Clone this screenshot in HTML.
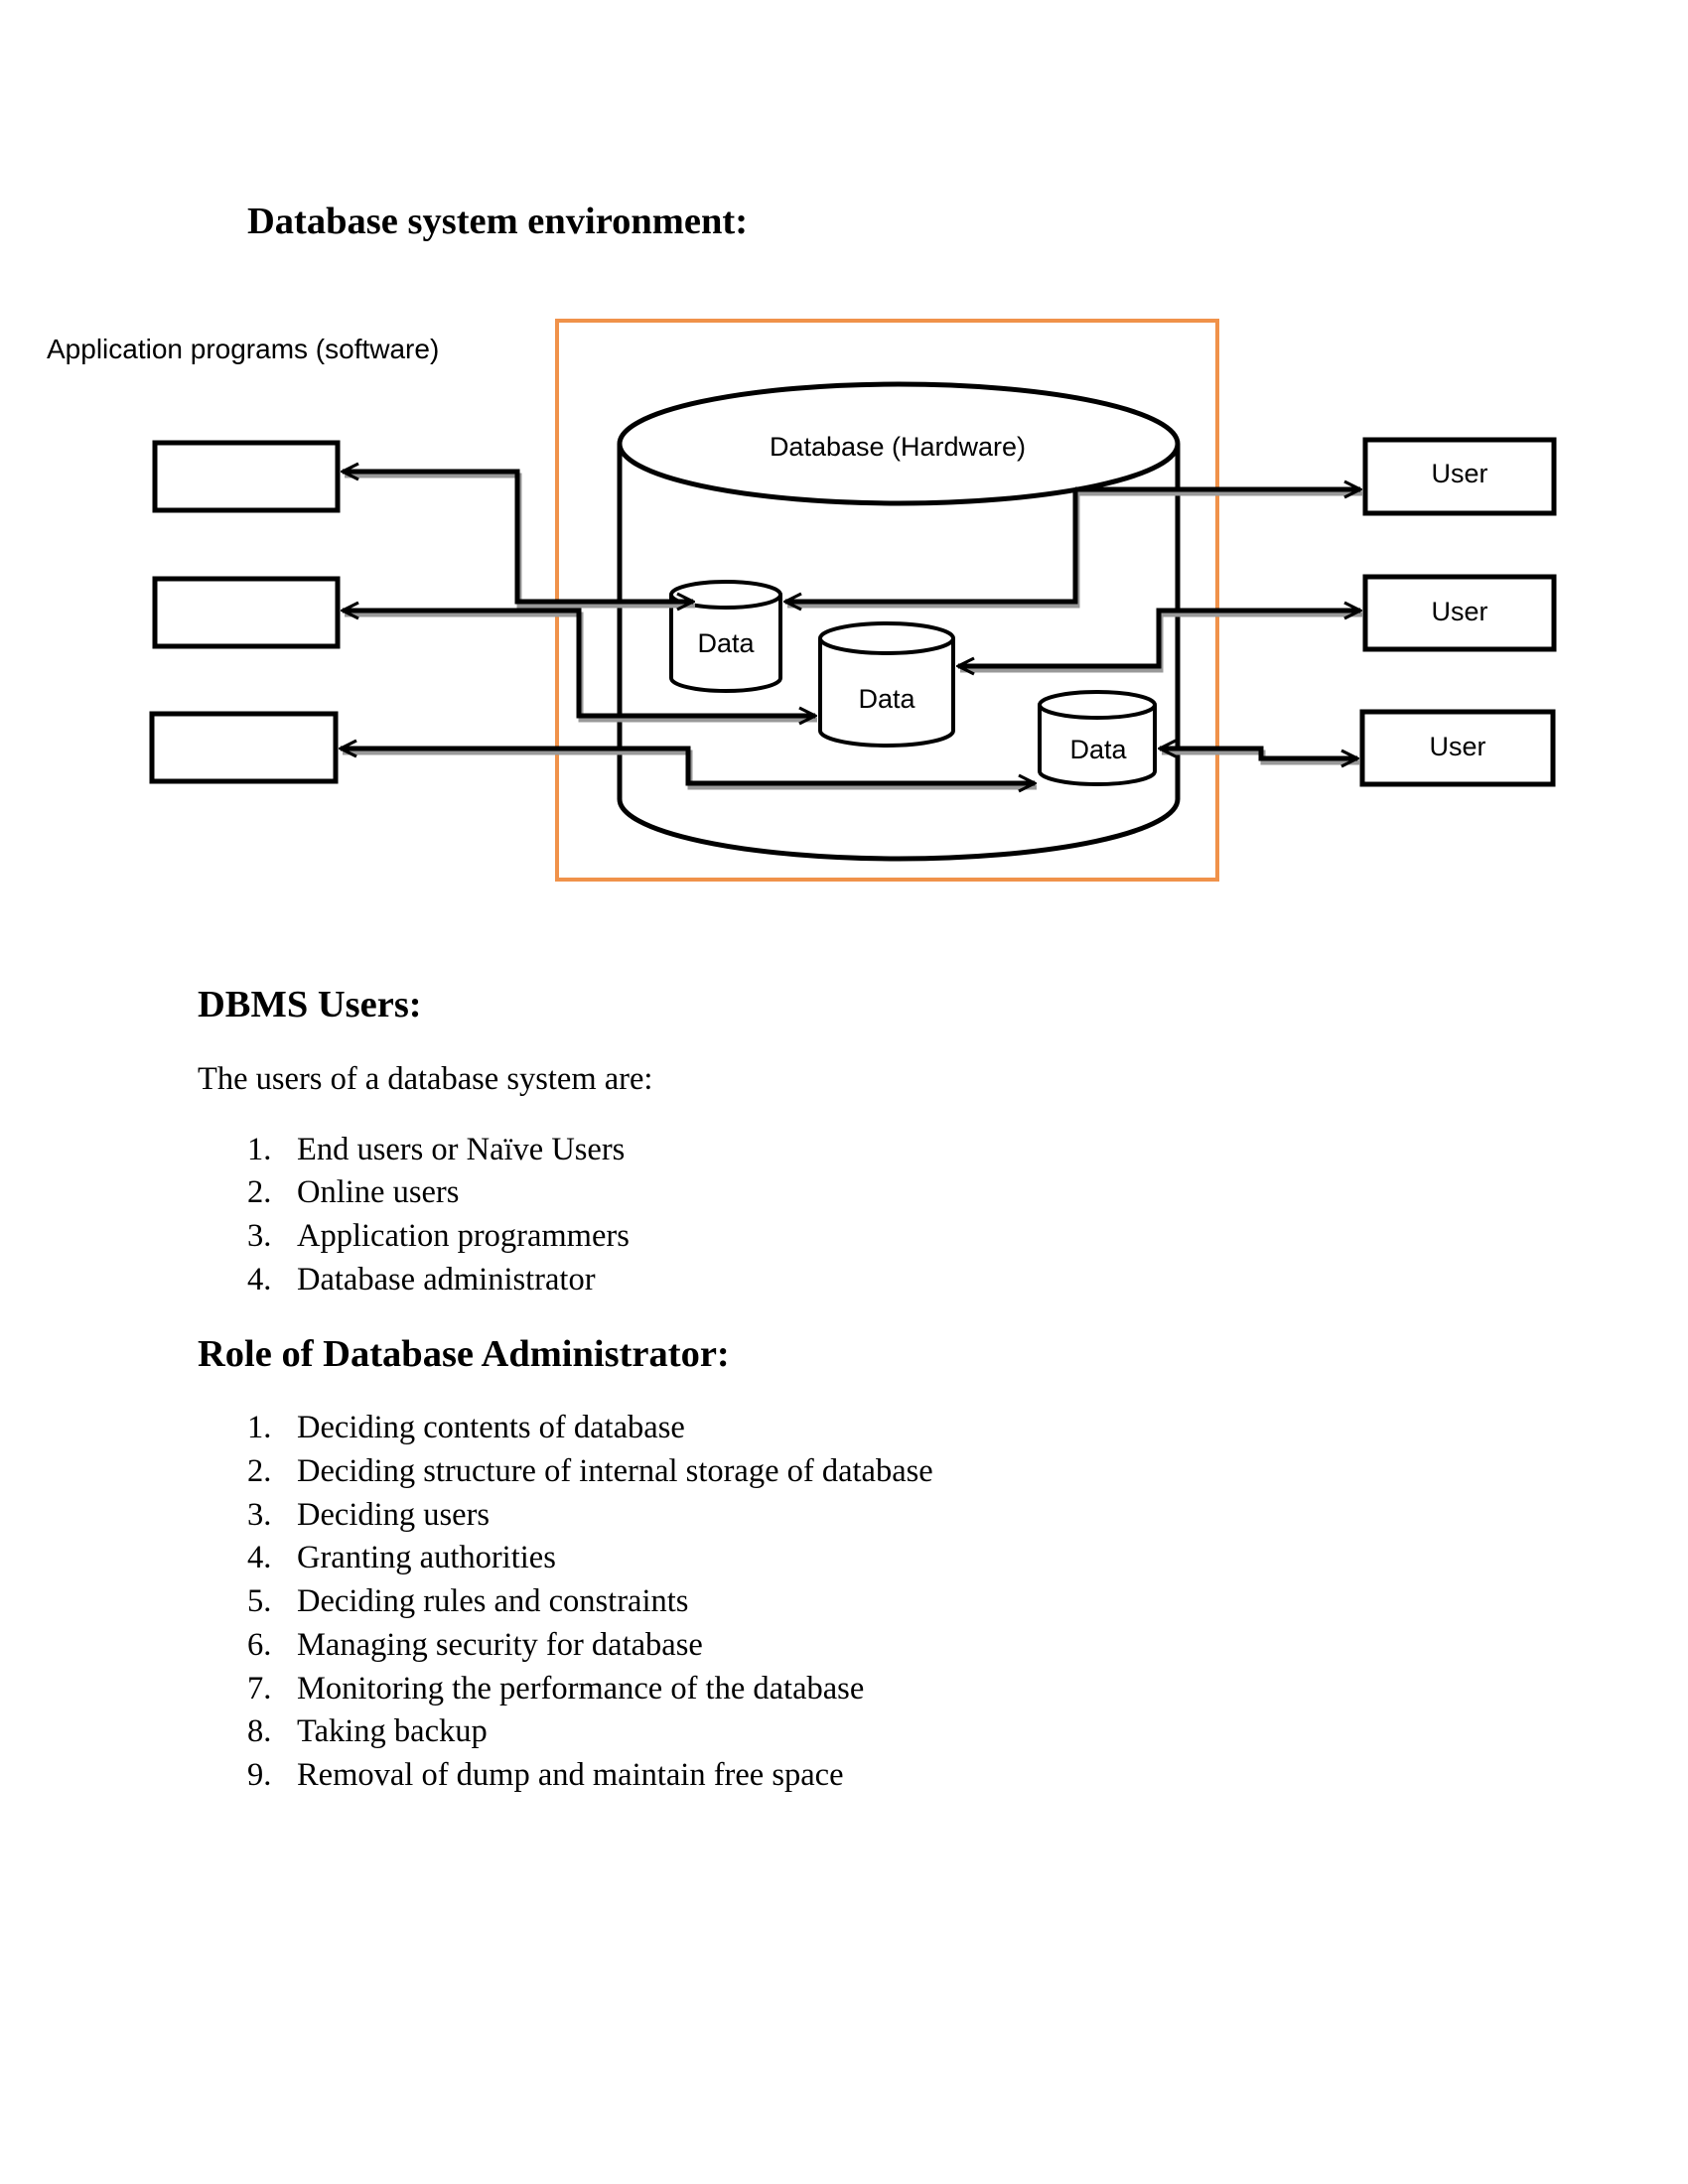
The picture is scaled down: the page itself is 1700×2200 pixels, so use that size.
<!DOCTYPE html>
<html><head><meta charset="utf-8"><style>
html,body{margin:0;padding:0;background:#fff;}
svg{display:block;}
.t{font-family:"Liberation Serif",serif;font-size:32.5px;fill:#000;}
.h{font-family:"Liberation Serif",serif;font-size:38.5px;font-weight:bold;fill:#000;}
.s{font-family:"Liberation Sans",sans-serif;fill:#000;}
</style></head><body>
<svg width="1700" height="2200" viewBox="0 0 1700 2200" xmlns="http://www.w3.org/2000/svg">
<defs>
<marker id="a" viewBox="0 0 10 10" refX="9" refY="5" markerWidth="4" markerHeight="4" orient="auto-start-reverse" markerUnits="strokeWidth">
<path d="M1,1 L9,5 L1,9" fill="none" stroke="#000" stroke-width="1.6"/>
</marker>
</defs>
<text class="h" x="249" y="235">Database system environment:</text>
<text class="s" x="47" y="361" font-size="28">Application programs (software)</text>
<rect x="561" y="323" width="665" height="563" fill="none" stroke="#f0924a" stroke-width="4"/>
<path d="M624,447 L624,805 A281,60 0 0 0 1186,805 L1186,447" fill="none" stroke="#000" stroke-width="5"/>
<ellipse cx="905" cy="447" rx="281" ry="60" fill="#fff" stroke="#000" stroke-width="5"/>
<text class="s" x="904" y="459" font-size="27" text-anchor="middle">Database (Hardware)</text>
<rect x="156" y="446" width="184" height="68" fill="#fff" stroke="#000" stroke-width="5"/>
<rect x="156" y="583" width="184" height="68" fill="#fff" stroke="#000" stroke-width="5"/>
<rect x="153" y="719" width="185" height="68" fill="#fff" stroke="#000" stroke-width="5"/>
<rect x="1375" y="443" width="190" height="74" fill="#fff" stroke="#000" stroke-width="5"/>
<rect x="1375" y="581" width="190" height="73" fill="#fff" stroke="#000" stroke-width="5"/>
<rect x="1372" y="717" width="192" height="73" fill="#fff" stroke="#000" stroke-width="5"/>
<text class="s" x="1470" y="486" font-size="27" text-anchor="middle">User</text>
<text class="s" x="1470" y="625" font-size="27" text-anchor="middle">User</text>
<text class="s" x="1468" y="761" font-size="27" text-anchor="middle">User</text>
<g stroke="#000" stroke-width="4" fill="#fff">
<path d="M676,599 L676,683 A55,13 0 0 0 786,683 L786,599"/>
<ellipse cx="731" cy="599" rx="55" ry="13"/>
<path d="M826,643 L826,736 A67,15 0 0 0 960,736 L960,643"/>
<ellipse cx="893" cy="643" rx="67" ry="15"/>
<path d="M1047,710 L1047,777 A58,13 0 0 0 1163,777 L1163,710"/>
<ellipse cx="1105" cy="710" rx="58" ry="13"/>
</g>
<text class="s" x="731" y="657" font-size="27" text-anchor="middle">Data</text>
<text class="s" x="893" y="713" font-size="27" text-anchor="middle">Data</text>
<text class="s" x="1106" y="764" font-size="27" text-anchor="middle">Data</text>
<g fill="none" stroke="#999" stroke-width="5" transform="translate(2,4)">
<path d="M698,606 L521,606 L521,475 L345,475"/>
<path d="M1083,493 L1370,493 M1083,493 L1083,606 L791,606"/>
<path d="M345,615 L583,615 L583,721 L821,721"/>
<path d="M1370,615 L1167,615 L1167,671 L965,671"/>
<path d="M343,754 L693,754 L693,789 L1042,789"/>
<path d="M1168,754 L1270,754 L1270,764 L1367,764"/>
</g>
<g fill="none" stroke="#000" stroke-width="5">
<path d="M698,606 L521,606 L521,475 L345,475" marker-start="url(#a)" marker-end="url(#a)"/>
<path d="M1083,493 L1370,493" marker-end="url(#a)"/>
<path d="M1083,493 L1083,606 L791,606" marker-end="url(#a)"/>
<path d="M345,615 L583,615 L583,721 L821,721" marker-start="url(#a)" marker-end="url(#a)"/>
<path d="M1370,615 L1167,615 L1167,671 L965,671" marker-start="url(#a)" marker-end="url(#a)"/>
<path d="M343,754 L693,754 L693,789 L1042,789" marker-start="url(#a)" marker-end="url(#a)"/>
<path d="M1168,754 L1270,754 L1270,764 L1367,764" marker-start="url(#a)" marker-end="url(#a)"/>
</g>
<text class="h" x="199" y="1024">DBMS Users:</text>
<text class="t" x="199" y="1097">The users of a database system are:</text>
<g class="t">
<text x="249" y="1168">1.</text><text x="299" y="1168">End users or Naïve Users</text>
<text x="249" y="1211">2.</text><text x="299" y="1211">Online users</text>
<text x="249" y="1255">3.</text><text x="299" y="1255">Application programmers</text>
<text x="249" y="1299">4.</text><text x="299" y="1299">Database administrator</text>
</g>
<text class="h" x="199" y="1376">Role of Database Administrator:</text>
<g class="t">
<text x="249" y="1448">1.</text><text x="299" y="1448">Deciding contents of database</text>
<text x="249" y="1492">2.</text><text x="299" y="1492">Deciding structure of internal storage of database</text>
<text x="249" y="1536">3.</text><text x="299" y="1536">Deciding users</text>
<text x="249" y="1579">4.</text><text x="299" y="1579">Granting authorities</text>
<text x="249" y="1623">5.</text><text x="299" y="1623">Deciding rules and constraints</text>
<text x="249" y="1667">6.</text><text x="299" y="1667">Managing security for database</text>
<text x="249" y="1711">7.</text><text x="299" y="1711">Monitoring the performance of the database</text>
<text x="249" y="1754">8.</text><text x="299" y="1754">Taking backup</text>
<text x="249" y="1798">9.</text><text x="299" y="1798">Removal of dump and maintain free space</text>
</g>
</svg>
</body></html>
